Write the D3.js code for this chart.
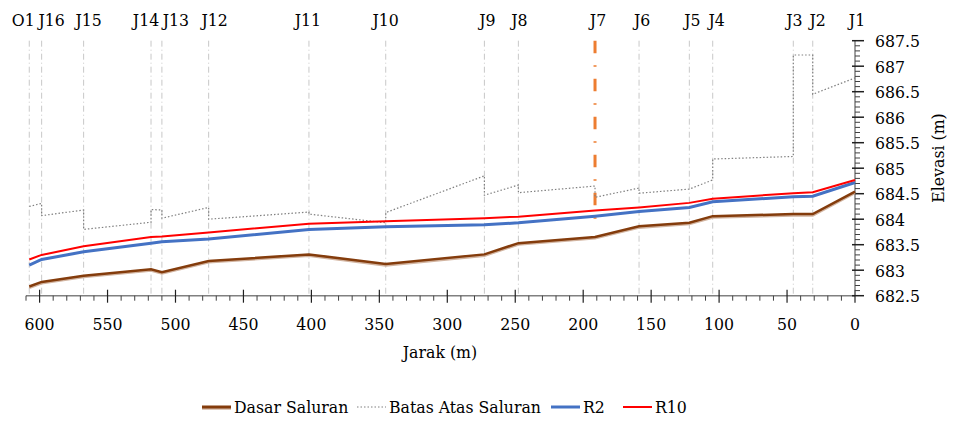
<!DOCTYPE html>
<html lang="en">

<head>
    <meta charset="UTF-8">
    <title>Profil Saluran</title>
    <script src="https://d3js.org/d3.v7.min.js"></script>
    <style>
        body { margin: 0; background: #fff; }
    </style>
</head>

<body>
    <script>
        // titik sambungan (label atas) dan jaraknya (m)
        let junctions = ["O1", "J16", "J15", "J14", "J13", "J12", "J11", "J10", "J9", "J8", "J7", "J6", "J5", "J4", "J3", "J2", "J1"];
        let jarak = [607.6, 598.5, 567.6, 518, 510, 475.6, 401.8, 345.3, 272.7, 247.7, 191.3, 158.9, 121.9, 104.7, 45.4, 31.1, 0];

        // elevasi (m)
        let dasar = [682.68, 682.77, 682.89, 683.02, 682.96, 683.18, 683.31, 683.12, 683.31, 683.53, 683.65, 683.86, 683.93, 684.06, 684.10, 684.10, 684.54];
        let r2 = [683.10, 683.21, 683.36, 683.53, 683.56, 683.61, 683.80, 683.85, 683.89, 683.93, 684.06, 684.15, 684.23, 684.34, 684.44, 684.45, 684.72];
        let r10 = [683.21, 683.30, 683.47, 683.65, 683.66, 683.74, 683.91, 683.96, 684.02, 684.05, 684.17, 684.23, 684.32, 684.40, 684.51, 684.53, 684.77];
        // batas atas: nilai datang dari kiri dan nilai berangkat ke kanan di tiap titik
        let batasMasuk = [684.25, 684.31, 684.18, 683.94, 684.18, 684.23, 684.14, 683.93, 684.85, 684.67, 684.65, 684.61, 684.59, 684.77, 685.23, 687.22, 686.77];
        let batasKeluar = [684.25, 684.07, 683.80, 684.19, 684.02, 684.00, 684.10, 684.13, 684.47, 684.52, 684.43, 684.51, 684.59, 685.18, 687.22, 686.45, 686.77];

        // penanda J7 (oranye)
        let penandaJarak = 191.3;
        let penandaElevasi = [683.9, 687.5];

        let xTicks = d3.range(0, 601, 50);
        let yTicks = d3.range(682.5, 687.51, 0.5);

        // geser label atas supaya tidak bertumpuk (px)
        let labelDx = [-6, 10, 5, -5, 14, 6, -1, 0, 3, 1, 3, 3, 3, 4, 1, 5, 2];

        let width = 954;
        let height = 423;
        let font = "DejaVu Serif Condensed";

        let svg = d3.select("body")
            .append("svg")
            .attr("width", width)
            .attr("height", height);

        let x = d3.scaleLinear().domain([610, 0]).range([26, 855]);
        let y = d3.scaleLinear().domain([682.5, 687.5]).range([295.7, 40.7]);

        function addText(sel) {
            return sel.append("text")
                .attr("font-family", font)
                .attr("font-stretch", "condensed")
                .attr("font-size", 17.5)
                .attr("fill", "#000");
        }

        // garis vertikal tiap titik
        svg.append("g")
            .selectAll("line")
            .data(jarak.filter((d, i) => junctions[i] != "J7" && d > 0))
            .enter()
            .append("line")
            .attr("x1", d => x(d)).attr("x2", d => x(d))
            .attr("y1", y(687.5)).attr("y2", y(682.5))
            .style("stroke", "#c8c8c8")
            .style("stroke-width", 1)
            .style("stroke-dasharray", "6,3,1,3");

        svg.append("line")
            .attr("x1", x(penandaJarak)).attr("x2", x(penandaJarak))
            .attr("y1", y(penandaElevasi[1])).attr("y2", y(penandaElevasi[0]))
            .style("stroke", "#ED7D31")
            .style("stroke-width", 3)
            .style("stroke-dasharray", "12.5,12,1.5,12");

        // label titik di atas
        addText(svg.append("g")
            .selectAll("g")
            .data(junctions)
            .enter())
            .attr("x", (d, i) => x(jarak[i]) + labelDx[i])
            .attr("y", 26)
            .attr("text-anchor", "middle")
            .text(d => d);

        // sumbu x
        let xAxis = svg.append("g");
        xAxis.append("line")
            .attr("x1", x(610)).attr("x2", x(0))
            .attr("y1", y(682.5)).attr("y2", y(682.5))
            .style("stroke", "#808080").style("stroke-width", 1.5);
        xAxis.selectAll(".minor")
            .data(d3.range(0, 611, 10).filter(d => d % 50 != 0))
            .enter()
            .append("line")
            .attr("x1", d => x(d)).attr("x2", d => x(d))
            .attr("y1", y(682.5)).attr("y2", y(682.5) + 5)
            .style("stroke", "#404040").style("stroke-width", 1);
        xAxis.selectAll(".major")
            .data(xTicks)
            .enter()
            .append("line")
            .attr("x1", d => x(d)).attr("x2", d => x(d))
            .attr("y1", y(682.5) - 6).attr("y2", y(682.5) + 7)
            .style("stroke", "#202020").style("stroke-width", 1.2);
        addText(xAxis.selectAll(".lbl")
            .data(xTicks)
            .enter())
            .attr("x", d => x(d))
            .attr("y", 330)
            .attr("text-anchor", "middle")
            .text(d => d);
        addText(svg)
            .attr("x", 440).attr("y", 358)
            .attr("text-anchor", "middle")
            .text("Jarak (m)");

        // sumbu y (kanan)
        let yAxis = svg.append("g");
        yAxis.append("line")
            .attr("x1", 855).attr("x2", 855)
            .attr("y1", y(682.5)).attr("y2", y(687.5))
            .style("stroke", "#808080").style("stroke-width", 1.5);
        yAxis.selectAll(".minor")
            .data(d3.range(0, 51).filter(d => d % 5 != 0).map(d => 682.5 + d / 10))
            .enter()
            .append("line")
            .attr("x1", 855).attr("x2", 860)
            .attr("y1", d => y(d)).attr("y2", d => y(d))
            .style("stroke", "#404040").style("stroke-width", 1);
        yAxis.selectAll(".major")
            .data(yTicks)
            .enter()
            .append("line")
            .attr("x1", 852).attr("x2", 864)
            .attr("y1", d => y(d)).attr("y2", d => y(d))
            .style("stroke", "#202020").style("stroke-width", 1.5);
        addText(yAxis.selectAll(".lbl")
            .data(yTicks)
            .enter())
            .attr("x", 875)
            .attr("y", d => y(d) + 6.5)
            .text(d => +d.toFixed(1));
        addText(svg)
            .attr("transform", "translate(944,158) rotate(-90)")
            .attr("text-anchor", "middle")
            .text("Elevasi (m)");

        // garis data
        let line = d3.line().x(d => x(d[0])).y(d => y(d[1]));

        let batasPts = [];
        jarak.forEach((d, i) => {
            batasPts.push([d, batasMasuk[i]]);
            batasPts.push([d, batasKeluar[i]]);
        });
        svg.append("path")
            .attr("d", line(batasPts))
            .style("fill", "none")
            .style("stroke", "#808080")
            .style("stroke-width", 1.2)
            .style("stroke-dasharray", "1.5,2");

        let dasarPts = jarak.map((d, i) => [d, dasar[i]]);
        svg.append("path")
            .attr("d", line(dasarPts))
            .attr("transform", "translate(0,1.3)")
            .style("fill", "none")
            .style("stroke", "#d2b4a0")
            .style("stroke-width", 2.5);
        svg.append("path")
            .attr("d", line(dasarPts))
            .style("fill", "none")
            .style("stroke", "#843C0C")
            .style("stroke-width", 2.5);

        svg.append("path")
            .attr("d", line(jarak.map((d, i) => [d, r2[i]])))
            .style("fill", "none")
            .style("stroke", "#4472C4")
            .style("stroke-width", 3);

        svg.append("path")
            .attr("d", line(jarak.map((d, i) => [d, r10[i]])))
            .style("fill", "none")
            .style("stroke", "#FF0000")
            .style("stroke-width", 2);

        // legenda
        let legend = [
            { name: "Dasar Saluran", x: 202, color: "#843C0C", w: 3, dash: null },
            { name: "Batas Atas Saluran", x: 357, color: "#808080", w: 1.2, dash: "1.5,2" },
            { name: "R2", x: 551, color: "#4472C4", w: 3, dash: null },
            { name: "R10", x: 623, color: "#FF0000", w: 2, dash: null }
        ];
        let lg = svg.append("g").selectAll("g").data(legend).enter().append("g");
        lg.filter(d => d.name == "Dasar Saluran")
            .append("line")
            .attr("x1", d => d.x).attr("x2", d => d.x + 29)
            .attr("y1", 408.5).attr("y2", 408.5)
            .style("stroke", "#d2b4a0").style("stroke-width", 2.5);
        lg.append("line")
            .attr("x1", d => d.x).attr("x2", d => d.x + 29)
            .attr("y1", 407).attr("y2", 407)
            .style("stroke", d => d.color)
            .style("stroke-width", d => d.w)
            .style("stroke-dasharray", d => d.dash);
        addText(lg)
            .attr("x", d => d.x + 32)
            .attr("y", 413)
            .text(d => d.name);
    </script>
</body>

</html>
